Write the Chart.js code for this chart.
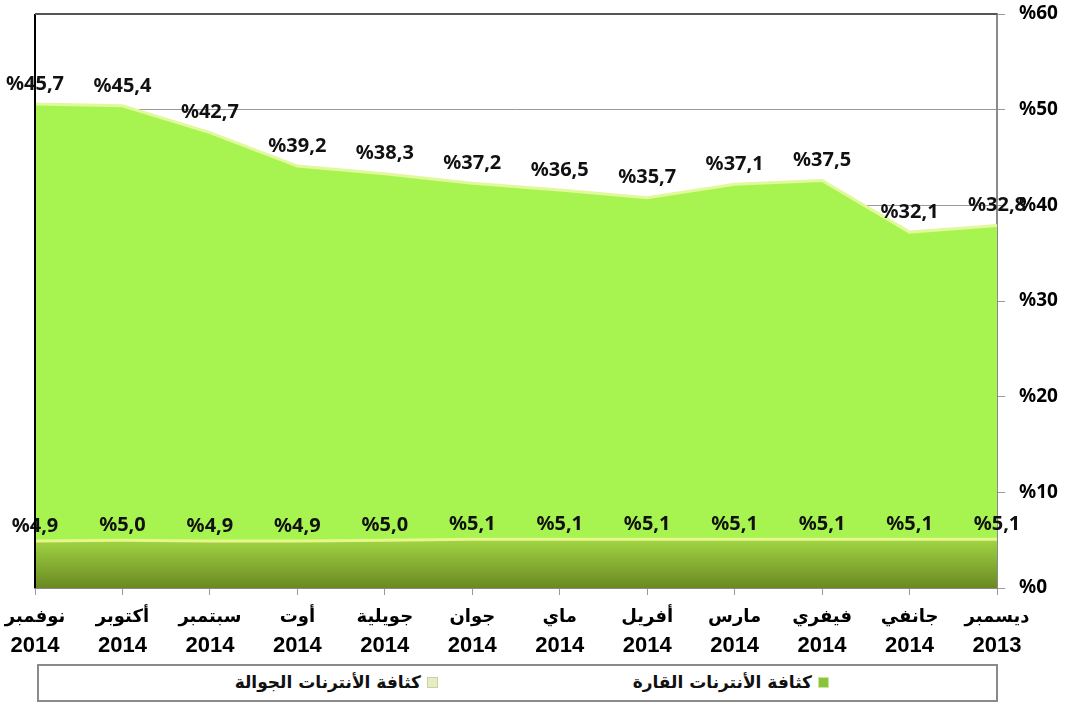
<!DOCTYPE html>
<html>
<head>
    <meta charset="utf-8">
    <title>كثافة الأنترنات</title>
    <script src="https://cdn.jsdelivr.net/npm/chart.js"></script>
    <style>
        body { margin: 0; background: #fff; }
        #wrap { position: relative; width: 1067px; height: 704px; }
        #legend {
            position: absolute; left: 37px; top: 664px; width: 961px; height: 38px;
            box-sizing: border-box; border: 2px solid #8a8a8a; background: #fff;
            font-family: "DejaVu Sans", sans-serif; font-weight: bold; font-size: 17px; color: #111;
        }
        .item { position: absolute; top: 6px; direction: rtl; display: flex; align-items: center; }
        .sq { width: 9px; height: 9px; margin-left: 6px; }
    </style>
</head>
<body>
<div id="wrap">
    <canvas id="myChart" width="1067" height="664"></canvas>
    <div id="legend">
        <div class="item" style="right:167px"><span class="sq" style="background:#8bc43c;border:1px solid #c9e89a"></span><span>كثافة الأنترنات القارة</span></div>
        <div class="item" style="right:558px"><span class="sq" style="background:#e6edc6;border:1px solid #c8d49c"></span><span>كثافة الأنترنات الجوالة</span></div>
    </div>
</div>

<script>
    // left to right as in the picture (newest first)
    const months = ['نوفمبر', 'أكتوبر', 'سبتمبر', 'أوت', 'جويلية', 'جوان', 'ماي', 'أفريل', 'مارس', 'فيفري', 'جانفي', 'ديسمبر'];
    const years = ['2014', '2014', '2014', '2014', '2014', '2014', '2014', '2014', '2014', '2014', '2014', '2013'];
    const fixedInternet = [4.9, 5.0, 4.9, 4.9, 5.0, 5.1, 5.1, 5.1, 5.1, 5.1, 5.1, 5.1];
    const mobileInternet = [45.7, 45.4, 42.7, 39.2, 38.3, 37.2, 36.5, 35.7, 37.1, 37.5, 32.1, 32.8];
    const yTicks = [0, 10, 20, 30, 40, 50, 60];

    function fmt(v) {
        return '%' + v.toFixed(1).replace('.', ',');
    }

    // value labels above each point + the dark frame lines
    const valueLabels = {
        id: 'valueLabels',
        afterDatasetsDraw(chart) {
            const ctx = chart.ctx;
            ctx.save();
            ctx.font = 'bold 20px "Noto Sans"';
            ctx.fillStyle = '#111';
            ctx.textAlign = 'center';
            ctx.textBaseline = 'middle';
            chart.data.datasets.forEach((ds, i) => {
                const meta = chart.getDatasetMeta(i);
                const off = i === 0 ? 15 : 20;
                meta.data.forEach((pt, j) => {
                    ctx.fillText(fmt(ds.data[j]), pt.x, pt.y - off);
                });
            });
            ctx.restore();
        },
        afterDraw(chart) {
            const a = chart.chartArea;
            const ctx = chart.ctx;
            ctx.save();
            ctx.strokeStyle = '#000';
            ctx.lineWidth = 2;
            ctx.beginPath();
            ctx.moveTo(a.left, a.top);
            ctx.lineTo(a.left, a.bottom);
            ctx.stroke();
            ctx.strokeStyle = '#555';
            ctx.beginPath();
            ctx.moveTo(a.left, a.top);
            ctx.lineTo(a.right, a.top);
            ctx.stroke();
            ctx.restore();
        }
    };

    function darkGradient(context) {
        const chart = context.chart;
        const a = chart.chartArea;
        if (!a) return '#8fbf36';
        const y5 = chart.scales.y.getPixelForValue(5);
        const g = chart.ctx.createLinearGradient(0, y5, 0, a.bottom);
        g.addColorStop(0, '#a0d444');
        g.addColorStop(1, '#6a8921');
        return g;
    }

    new Chart(document.getElementById('myChart'), {
        type: 'line',
        data: {
            labels: months,
            datasets: [{
                label: 'كثافة الأنترنات القارة',
                data: fixedInternet,
                fill: 'origin',
                backgroundColor: darkGradient,
                borderColor: '#e6f68a',
                borderWidth: 3,
                pointRadius: 0,
                tension: 0
            }, {
                label: 'كثافة الأنترنات الجوالة',
                data: mobileInternet,
                fill: '-1',
                backgroundColor: '#a7f350',
                borderColor: '#e2f89c',
                borderWidth: 3,
                pointRadius: 0,
                tension: 0
            }]
        },
        options: {
            responsive: false,
            animation: false,
            layout: { padding: { left: 35, top: 14, right: 0, bottom: 0 } },
            plugins: {
                legend: { display: false },
                tooltip: { enabled: false }
            },
            scales: {
                x: {
                    offset: false,
                    afterFit: s => { s.height = 42; s.paddingLeft = 0; s.paddingRight = 0; },
                    grid: { drawOnChartArea: false, drawTicks: true, tickLength: 7, color: '#999' },
                    border: { display: true, color: '#8a8a8a', width: 2 },
                    ticks: {
                        autoSkip: false, maxRotation: 0, padding: 12, color: '#000',
                        font: { family: '"DejaVu Sans"', weight: 'bold', size: 18 }
                    }
                },
                x2: {
                    type: 'category',
                    position: 'bottom',
                    labels: years,
                    offset: false,
                    afterFit: s => { s.height = 34; s.paddingLeft = 0; s.paddingRight = 0; },
                    grid: { display: false, drawTicks: false },
                    border: { display: false },
                    ticks: {
                        autoSkip: false, maxRotation: 0, padding: 3, color: '#000',
                        font: { family: '"Liberation Sans"', weight: 'bold', size: 22 }
                    }
                },
                y: {
                    position: 'right',
                    stacked: true,
                    min: 0, max: 60,
                    afterFit: s => { s.width = 70; s.paddingTop = 0; s.paddingBottom = 0; },
                    afterBuildTicks: s => { s.ticks = yTicks.map(v => ({ value: v })); },
                    grid: { color: '#9a9a9a', tickLength: 8 },
                    border: { display: true, color: '#8a8a8a', width: 2 },
                    ticks: {
                        padding: 14, color: '#000',
                        font: { family: '"Noto Sans"', weight: 'bold', size: 19 },
                        callback: v => '%' + v
                    }
                }
            }
        },
        plugins: [valueLabels]
    });
</script>
</body>
</html>
